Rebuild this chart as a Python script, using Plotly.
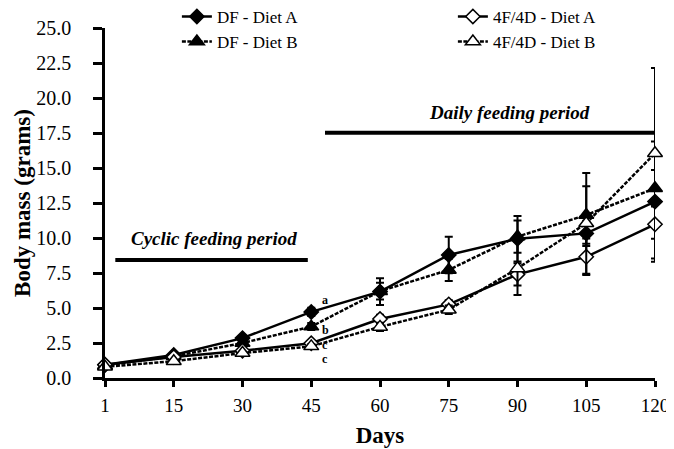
import plotly.graph_objects as go

days = ["1", "15", "30", "45", "60", "75", "90", "105", "120"]
y_ticks = [0, 2.5, 5, 7.5, 10, 12.5, 15, 17.5, 20, 22.5, 25]

df_a = [0.95, 1.65, 2.85, 4.72, 6.17, 8.79, 9.95, 10.33, 12.6]
df_a_err = [0.05, 0.1, 0.15, 0.3, 0.95, 1.3, 1.62, 0.9, 4.3]
df_b = [0.9, 1.55, 2.5, 3.67, 6.2, 7.72, 10.1, 11.64, 13.55]
df_b_err = [0.05, 0.1, 0.15, 0.25, 0.6, 0.8, 1.15, 2.05, 1.3]
ff_a = [0.95, 1.5, 1.95, 2.48, 4.21, 5.26, 7.4, 8.66, 10.98]
ff_a_err = [0.05, 0.1, 0.1, 0.15, 0.3, 0.3, 0.8, 1.3, 2.45]
ff_b = [0.8, 1.2, 1.78, 2.26, 3.65, 4.88, 7.83, 11.05, 16.05]
ff_b_err = [0.05, 0.1, 0.1, 0.15, 0.3, 0.3, 1.9, 3.6, 6.1]

FONT = "Liberation Serif"

series = [
    ("DF - Diet A", df_a, df_a_err, "diamond", "black", "solid", 1),
    ("DF - Diet B", df_b, df_b_err, "triangle-up", "black", "4px,1.5px", 3),
    ("4F/4D - Diet A", ff_a, ff_a_err, "diamond", "white", "solid", 2),
    ("4F/4D - Diet B", ff_b, ff_b_err, "triangle-up", "white", "4px,1.5px", 4),
]

fig = go.Figure()
for name, vals, err, sym, fill, dash, rank in series:
    fig.add_trace(go.Scatter(
        x=days, y=vals, name=name, mode="lines+markers",
        line=dict(color="black", width=2.5, dash=dash),
        marker=dict(symbol=sym, size=13 if "triangle" in sym else 11,
                    color=fill, line=dict(color="black", width=1.5)),
        error_y=dict(type="data", array=err, visible=True,
                     color="black", thickness=2, width=4),
        legendrank=rank, cliponaxis=False,
    ))

# feeding period bars
fig.add_shape(type="line", xref="x", yref="y", x0=0.15, x1=2.95, y0=8.43, y1=8.43,
              line=dict(color="black", width=4))
fig.add_shape(type="line", xref="x", yref="y", x0=3.2, x1=7.99, y0=17.52, y1=17.52,
              line=dict(color="black", width=4))
fig.add_annotation(text="<b><i>Cyclic feeding period</i></b>", x=1.585, y=10.0,
                   xref="x", yref="y", showarrow=False,
                   font=dict(family=FONT, size=19, color="black"))
fig.add_annotation(text="<b><i>Daily feeding period</i></b>", x=5.89, y=19.0,
                   xref="x", yref="y", showarrow=False,
                   font=dict(family=FONT, size=19, color="black"))

letters = [("a", 5.57), ("b", 3.43), ("c", 2.35), ("c", 1.35)]
for t, yv in letters:
    fig.add_annotation(text="<b>%s</b>" % t, x=3.2, y=yv, xref="x", yref="y",
                       showarrow=False, font=dict(family=FONT, size=12, color="black"))

fig.update_layout(
    width=674, height=449,
    margin=dict(l=97, r=27, t=20, b=79, autoexpand=False),
    paper_bgcolor="white", plot_bgcolor="white",
    font=dict(family=FONT, color="black"),
    showlegend=True,
    legend=dict(orientation="h", x=0.1307, y=1.083, xref="paper", yref="paper",
                xanchor="left", yanchor="top",
                entrywidth=231, entrywidthmode="pixels",
                font=dict(family=FONT, size=17, color="black"),
                bgcolor="rgba(0,0,0,0)", tracegroupgap=0),
    xaxis=dict(type="category", range=[0, 8], showline=True, linecolor="black",
               linewidth=2.5, ticks="outside", ticklen=6, tickwidth=2.5,
               tickcolor="black", showgrid=False, zeroline=False, automargin=False,
               tickfont=dict(family=FONT, size=19, color="black"),
               ticklabelstandoff=2,
               title=dict(text="<b>Days</b>", font=dict(family=FONT, size=23, color="black"),
                          standoff=13)),
    yaxis=dict(range=[0, 25], tickvals=y_ticks,
               ticktext=["%.1f" % v for v in y_ticks],
               showline=True, linecolor="black", linewidth=2.5,
               ticks="outside", ticklen=9, tickwidth=2.5, tickcolor="black",
               showgrid=False, zeroline=False, automargin=False,
               tickfont=dict(family=FONT, size=20, color="black"),
               ticklabelstandoff=18,
               title=dict(text="<b>Body mass (grams)</b>",
                          font=dict(family=FONT, size=23, color="black"), standoff=0)),
)

fig.write_html("out.html")
